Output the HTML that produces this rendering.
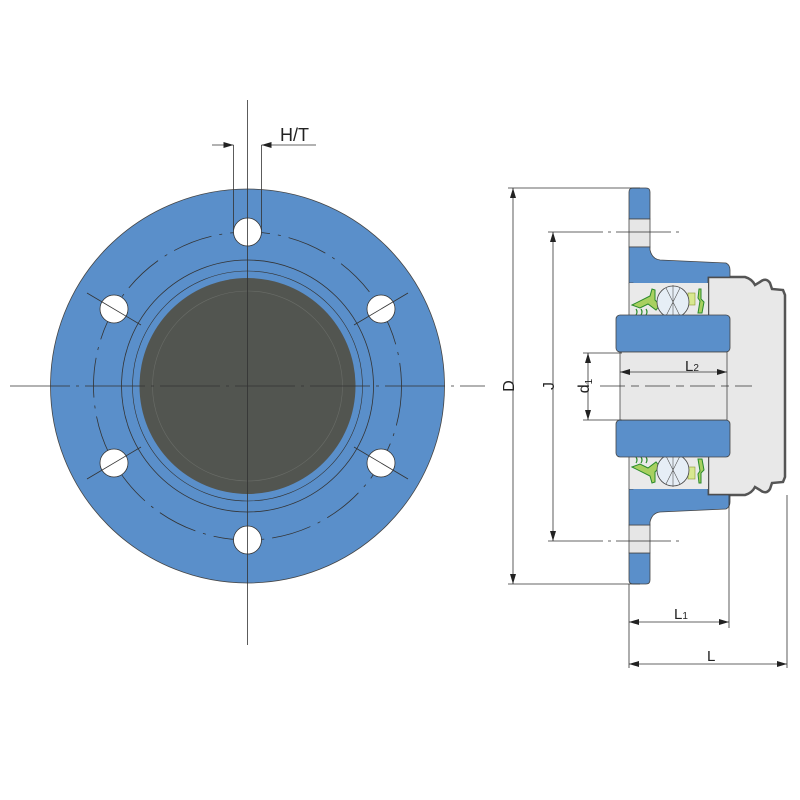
<!DOCTYPE html>
<html><head><meta charset="utf-8"><style>
html,body{margin:0;padding:0;background:#fff;}
svg{display:block;}
text{font-family:"Liberation Sans",sans-serif;fill:#222;}
</style></head><body>
<svg width="800" height="800" viewBox="0 0 800 800" xmlns="http://www.w3.org/2000/svg">
<defs>
<marker id="a" viewBox="0 0 10 6" refX="10" refY="3" markerWidth="10" markerHeight="6" orient="auto-start-reverse" markerUnits="userSpaceOnUse"><path d="M0,0 L10,3 L0,6 Z" fill="#222"/></marker>
<g id="half">
  <path d="M629,192 Q629,188 633,188 L646,188 Q650,188 650,192 L650,219 L629,219 Z" fill="#5a8fca" stroke="#444" stroke-width="0.8"/>
  <rect x="629" y="219" width="21" height="28" fill="#e6e6e6" stroke="#444" stroke-width="0.8"/>
  <path d="M629,247 L650,247 L650,250 Q652,259 660,260 L726,263 Q730,265 730,270 L730,277 L708,277 L708,288 L640,288 L633,283 L629,283 Z" fill="#5a8fca" stroke="#444" stroke-width="0.8"/>
  <rect x="629" y="283" width="79" height="32" fill="#eaeaea"/>
  <line x1="629" y1="283" x2="629" y2="315" stroke="#444" stroke-width="0.8"/>
  <path d="M632,305 L650,296 L652,289 L655,290 L655,300 L660,305 L656,310 L648,304 L640,308 Z" fill="#a8d060" stroke="#2a8a2a" stroke-width="1"/>
  <path d="M636,309 q2,3 0,6 M641,309 q2,3 0,6 M646,309 q2,3 0,6" stroke="#2a8a2a" stroke-width="1.2" fill="none"/>
  <path d="M699,289 L701,289 L701,299 L704,302 L702,313 L698,313 L700,301 L698,298 Z" fill="#a8d060" stroke="#2a8a2a" stroke-width="1"/>
  <rect x="688" y="293" width="7" height="12" fill="#d8e890" stroke="#8a9a30" stroke-width="0.6"/>
  <circle cx="673" cy="302" r="16" fill="#e6eef6" stroke="#444" stroke-width="0.8"/>
  <path d="M666,288 L680,316 M680,288 L666,316 M673,285 L673,320" stroke="#555" stroke-width="0.6"/>
  <rect x="616" y="315" width="114" height="37" rx="4" fill="#5a8fca" stroke="#444" stroke-width="0.8"/>
</g>
</defs>

<circle cx="247.5" cy="386" r="197" fill="#5a8fca" stroke="#444" stroke-width="0.8"/>
<circle cx="247.5" cy="386" r="154" fill="none" stroke="#333" stroke-width="0.8" stroke-dasharray="40,8,3,8"/>
<circle cx="247.5" cy="386" r="126" fill="none" stroke="#333" stroke-width="0.8"/>
<circle cx="247.5" cy="386" r="115" fill="none" stroke="#333" stroke-width="0.6"/>
<circle cx="247.5" cy="386" r="108" fill="#525550"/>
<circle cx="247.5" cy="386" r="95" fill="none" stroke="#6a6d68" stroke-width="0.6"/>
<g fill="#fff" stroke="#333" stroke-width="0.8">
<circle cx="247.5" cy="232" r="14"/>
<circle cx="247.5" cy="540" r="14"/>
<circle cx="114" cy="309" r="14"/>
<circle cx="381" cy="309" r="14"/>
<circle cx="114" cy="463" r="14"/>
<circle cx="381" cy="463" r="14"/>
</g>
<g stroke="#333" stroke-width="0.8">
<line x1="247.5" y1="100" x2="247.5" y2="645"/>
<line x1="10" y1="386" x2="485" y2="386" stroke-dasharray="60,6,3,6"/>
<line x1="87" y1="293" x2="141" y2="325"/>
<line x1="354" y1="325" x2="408" y2="293"/>
<line x1="87" y1="479" x2="141" y2="447"/>
<line x1="354" y1="447" x2="408" y2="479"/>
<line x1="233.5" y1="145" x2="233.5" y2="230"/>
<line x1="261.5" y1="145" x2="261.5" y2="230"/>
<line x1="212" y1="145" x2="233.5" y2="145" marker-end="url(#a)"/>
<line x1="316" y1="145" x2="261.5" y2="145" marker-end="url(#a)"/>
</g>
<text x="280" y="141" font-size="18">H/T</text>

<path d="M708,277 L745,277 Q752,279 755,285 L760,282 Q766,277 770,283 L772,289 L783,290 L785,295 L785,477 L783,482 L772,483 L770,489 Q766,495 760,490 L755,487 Q752,493 745,495 L708,495 Z" fill="#e8e8e8" stroke="#555" stroke-width="2.5"/>
<use href="#half"/>
<use href="#half" transform="translate(0,772) scale(1,-1)"/>
<rect x="620" y="352" width="107" height="68" fill="#e8e8e8" stroke="#444" stroke-width="0.8"/>

<g stroke="#333" stroke-width="0.8" fill="none">
<line x1="600" y1="386" x2="752" y2="386" stroke-dasharray="25,6,8,6"/>
<line x1="508" y1="188" x2="640" y2="188"/>
<line x1="508" y1="584" x2="640" y2="584"/>
<line x1="513" y1="188" x2="513" y2="584" marker-start="url(#a)" marker-end="url(#a)"/>
<line x1="548" y1="232" x2="680" y2="232" stroke-dasharray="55,5,3,5"/>
<line x1="548" y1="541" x2="680" y2="541" stroke-dasharray="55,5,3,5"/>
<line x1="553" y1="232" x2="553" y2="541" marker-start="url(#a)" marker-end="url(#a)"/>
<line x1="583" y1="353" x2="622" y2="353"/>
<line x1="583" y1="420" x2="622" y2="420"/>
<line x1="588" y1="353" x2="588" y2="420" marker-start="url(#a)" marker-end="url(#a)"/>
<line x1="620" y1="372" x2="727" y2="372" marker-start="url(#a)" marker-end="url(#a)"/>
<line x1="629" y1="584" x2="629" y2="668"/>
<line x1="729" y1="495" x2="729" y2="628"/>
<line x1="787" y1="495" x2="787" y2="668"/>
<line x1="629" y1="622" x2="729" y2="622" marker-start="url(#a)" marker-end="url(#a)"/>
<line x1="629" y1="664" x2="787" y2="664" marker-start="url(#a)" marker-end="url(#a)"/>
</g>
<text transform="translate(514,386) rotate(-90)" text-anchor="middle" font-size="16">D</text>
<text transform="translate(554,386) rotate(-90)" text-anchor="middle" font-size="16">J</text>
<text transform="translate(589,386) rotate(-90)" text-anchor="middle" font-size="16">d<tspan font-size="10" dy="3">1</tspan></text>
<text x="685" y="371" font-size="15">L<tspan font-size="10">2</tspan></text>
<text x="674" y="619" font-size="15">L<tspan font-size="10">1</tspan></text>
<text x="707" y="661" font-size="15">L</text>
</svg>
</body></html>
